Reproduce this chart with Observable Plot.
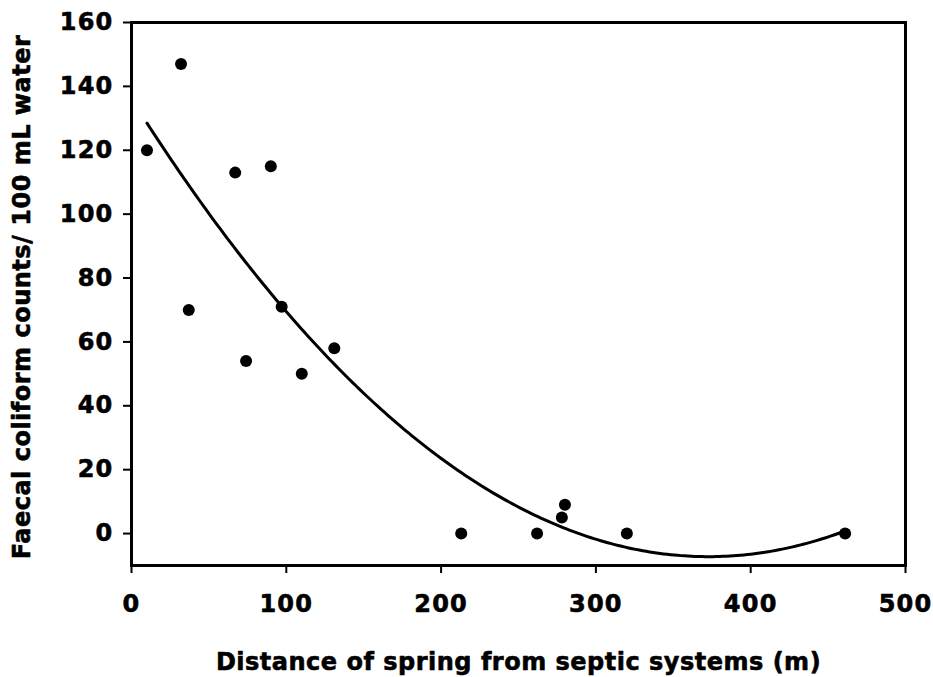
<!DOCTYPE html>
<html>
<head>
<meta charset="utf-8">
<script src="https://cdn.jsdelivr.net/npm/d3@7"></script>
<script src="https://cdn.jsdelivr.net/npm/@observablehq/plot@0.6"></script>
<style>
  html, body { margin: 0; padding: 0; background: #fff; }
  #chart { width: 933px; height: 677px; }
</style>
</head>
<body>
<div id="chart"></div>
<script>
// Data
const distance = [10, 32, 37, 67, 74, 90, 97, 110, 131, 213, 262, 278, 280, 320, 461];
const faecal   = [120, 147, 70, 113, 54, 115, 71, 50, 58, 0, 0, 5, 9, 0, 0];
const xTicks = [0, 100, 200, 300, 400, 500];
const yTicks = [0, 20, 40, 60, 80, 100, 120, 140, 160];
const xTitle = "Distance of spring from septic systems (m)";
const yTitle = "Faecal coliform counts/ 100 mL water";

const points = distance.map((d, i) => ({x: d, y: faecal[i]}));

// Least-squares quadratic (polynomial order 2) trendline fitted to the data
function quadFit(xs, ys) {
  const n = xs.length;
  let s = [0,0,0,0,0], t = [0,0,0];
  for (let i = 0; i < n; i++) {
    const x = xs[i], y = ys[i];
    for (let k = 0; k <= 4; k++) s[k] += Math.pow(x, k);
    for (let k = 0; k <= 2; k++) t[k] += Math.pow(x, k) * y;
  }
  const A = [[s[0], s[1], s[2], t[0]], [s[1], s[2], s[3], t[1]], [s[2], s[3], s[4], t[2]]];
  for (let c = 0; c < 3; c++) {
    let p = c;
    for (let r = c + 1; r < 3; r++) if (Math.abs(A[r][c]) > Math.abs(A[p][c])) p = r;
    [A[c], A[p]] = [A[p], A[c]];
    for (let r = 0; r < 3; r++) if (r !== c) {
      const f = A[r][c] / A[c][c];
      for (let k = c; k < 4; k++) A[r][k] -= f * A[c][k];
    }
  }
  return [A[0][3] / A[0][0], A[1][3] / A[1][1], A[2][3] / A[2][2]];
}
const [c0, c1, c2] = quadFit(distance, faecal);
const xMin = d3.min(distance), xMax = d3.max(distance);
const curve = d3.range(0, 201).map(i => {
  const x = xMin + (xMax - xMin) * i / 200;
  return {x, y: c0 + c1 * x + c2 * x * x};
});

const font = "'DejaVu Sans', 'Liberation Sans', Arial, sans-serif";
const heavy = {fontWeight: "bold", fill: "#000", stroke: "#000", strokeWidth: 0.6};

const chart = Plot.plot({
  width: 933,
  height: 677,
  marginLeft: 131,
  marginRight: 28,
  marginTop: 22,
  marginBottom: 112,
  style: {fontFamily: font, fontSize: "24px", fontWeight: "bold", color: "#000", background: "#fff", overflow: "visible"},
  x: {domain: [0, 500], ticks: xTicks, label: null},
  y: {domain: [-10, 160], ticks: yTicks, label: null},
  marks: [
    Plot.axisX({ticks: xTicks, tickSize: 8, tickPadding: 21, strokeWidth: 2, label: null, fontWeight: "bold", fontSize: 24, textStroke: "#000", textStrokeWidth: 0.6}),
    Plot.axisY({ticks: yTicks, tickSize: 8, tickPadding: 10, strokeWidth: 2, label: null, fontWeight: "bold", fontSize: 24, textStroke: "#000", textStrokeWidth: 0.6}),
    Plot.frame({stroke: "#000", strokeWidth: 3}),
    Plot.line(curve, {x: "x", y: "y", stroke: "#000", strokeWidth: 3, curve: "linear"}),
    Plot.dot(points, {x: "x", y: "y", r: 6, fill: "#000", stroke: "none"}),
    Plot.text([xTitle], {frameAnchor: "bottom", dy: 97, text: d => d, fontSize: 24, textAnchor: "middle", lineAnchor: "middle", ...heavy}),
    Plot.text([yTitle], {frameAnchor: "left", dx: -109, dy: 3, rotate: -90, text: d => d, fontSize: 24, textAnchor: "middle", lineAnchor: "middle", ...heavy})
  ]
});
const sel = d3.select(chart);
sel.selectAll('g[aria-label$="tick label"] text').attr("letter-spacing", "1.2px");
sel.selectAll('g[aria-label="text"] text').attr("letter-spacing", "0.5px");
document.getElementById("chart").appendChild(chart);
</script>
</body>
</html>
